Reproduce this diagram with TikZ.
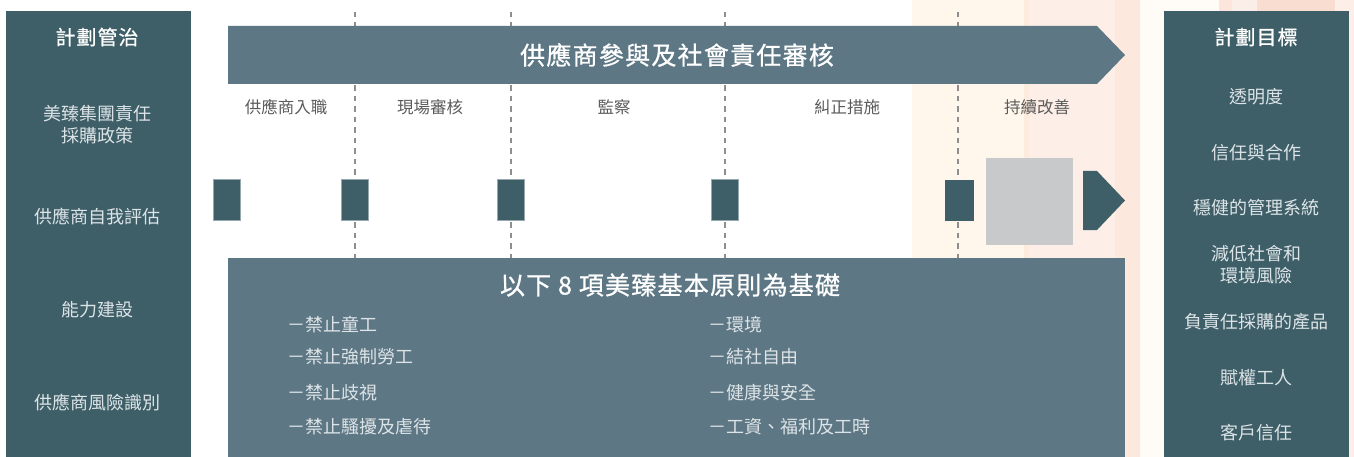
\documentclass[tikz,border=0pt]{standalone}
\usepackage{fontspec}
\setmainfont{Noto Sans CJK TC}
\newfontfamily\headfont[LetterSpace=5, FakeBold=0.8]{Noto Sans CJK TC}

\definecolor{panelteal}{HTML}{3E5F68}
\definecolor{boxslate}{HTML}{5E7785}
\definecolor{blockgray}{HTML}{C8C9CB}
\definecolor{dashgray}{HTML}{8E8E8E}
\definecolor{labelgray}{HTML}{5A5A5A}
\definecolor{itemwhite}{HTML}{DDE4E7}
\definecolor{creamA}{HTML}{FFF7EC}
\definecolor{peachA}{HTML}{FDEBDD}
\definecolor{pinkA}{HTML}{FDEEE7}
\definecolor{pinkB}{HTML}{FDE8DE}
\definecolor{creamB}{HTML}{FFFCF7}
\definecolor{pinkC}{HTML}{FCE6DB}
\definecolor{pinkD}{HTML}{FBEDE7}
\definecolor{peachB}{HTML}{F9DDD1}

\begin{document}
\begin{tikzpicture}[x=1pt,y=-1pt,
    panel/.style={fill=panelteal, draw=none, inner sep=0pt, minimum width=185pt, minimum height=446pt},
    paneltitle/.style={text=white, font=\fontsize{20}{24}\headfont},
    panelitem/.style={text=itemwhite, align=center, font=\fontsize{18}{22}\selectfont},
    stagelabel/.style={text=labelgray, font=\fontsize{16.5}{20}\selectfont},
    marker/.style={fill=panelteal, draw=itemwhite!55!panelteal, line width=0.6pt, minimum width=27pt, minimum height=41pt, inner sep=0pt},
    divider/.style={dashgray, line width=2pt, dash pattern=on 5.5pt off 5pt},
    principle/.style={text=itemwhite, anchor=west, font=\fontsize{18}{22}\selectfont},
    bigtitle/.style={text=white, font=\fontsize{25}{30}\headfont}]
    \useasboundingbox (0,0) rectangle (1354,457);

    % Background stripes
    \fill[creamA] (912,0) rectangle (1024,457);
    \fill[peachA] (1024,0) rectangle (1029,457);
    \fill[pinkA] (1029,0) rectangle (1115,457);
    \fill[pinkB] (1115,0) rectangle (1140,457);
    \fill[creamB] (1140,0) rectangle (1219,457);
    \fill[pinkC] (1219,0) rectangle (1232,457);
    \fill[pinkD] (1232,0) rectangle (1257,457);
    \fill[peachB] (1257,0) rectangle (1335,457);
    \fill[pinkA] (1335,0) rectangle (1354,457);

    % Stage dividers
    \coordinate (div1top) at (355,12);
    \coordinate (div1bot) at (355,258);
    \coordinate (div2top) at (511,12);
    \coordinate (div2bot) at (511,258);
    \coordinate (div3top) at (725,12);
    \coordinate (div3bot) at (725,258);
    \coordinate (div4top) at (958,12);
    \coordinate (div4bot) at (958,258);
    \draw[divider] (div1top) -- (div1bot);
    \draw[divider] (div2top) -- (div2bot);
    \draw[divider] (div3top) -- (div3bot);
    \draw[divider] (div4top) -- (div4bot);

    % Side panels
    \node[panel] (govpanel) at (98.5,234) {};
    \node[panel] (goalpanel) at (1256.5,234) {};

    \node[paneltitle] (govtitle) at (97,37) {計劃管治};
    \node[panelitem] (gov1) at (97,125) {美臻集團責任\\採購政策};
    \node[panelitem] (gov2) at (97,217) {供應商自我評估};
    \node[panelitem] (gov3) at (97,310) {能力建設};
    \node[panelitem] (gov4) at (97,403) {供應商風險識別};

    \node[paneltitle] (goaltitle) at (1256,37) {計劃目標};
    \node[panelitem] (goal1) at (1256,97) {透明度};
    \node[panelitem] (goal2) at (1256,153) {信任與合作};
    \node[panelitem] (goal3) at (1256,208) {穩健的管理系統};
    \node[panelitem] (goal4) at (1256,265) {減低社會和\\環境風險};
    \node[panelitem] (goal5) at (1256,322) {負責任採購的產品};
    \node[panelitem] (goal6) at (1256,378) {賦權工人};
    \node[panelitem] (goal7) at (1256,433) {客戶信任};

    % Process arrow
    \fill[boxslate] (228,26) -- (1097,26) -- (1125,55) -- (1097,84) -- (228,84) -- cycle;
    \node[bigtitle] (flowtitle) at (677,55) {供應商參與及社會責任審核};

    % Stage labels
    \node[stagelabel] (stage1) at (286,107) {供應商入職};
    \node[stagelabel] (stage2) at (430,107) {現場審核};
    \node[stagelabel] (stage3) at (614,107) {監察};
    \node[stagelabel] (stage4) at (847,107) {糾正措施};
    \node[stagelabel] (stage5) at (1037,107) {持續改善};

    % Markers
    \node[marker] (mark0) at (226.5,200) {};
    \node[marker] (mark1) at (355,200) {};
    \node[marker] (mark2) at (511,200) {};
    \node[marker] (mark3) at (725,200) {};
    \node[marker, minimum width=29pt, draw=none] (mark4) at (959.5,200.5) {};
    \node[fill=blockgray, inner sep=0pt, minimum width=87pt, minimum height=87pt] (block) at (1029.5,201.5) {};
    \fill[panelteal] (1083,171) -- (1097,171) -- (1125,200.5) -- (1097,230) -- (1083,230) -- cycle;

    % Principles box
    \node[fill=boxslate, inner sep=0pt, minimum width=897pt, minimum height=199pt] (basebox) at (676.5,357.5) {};
    \node[bigtitle] (basetitle) at (670,285) {以下 8 項美臻基本原則為基礎};
    \node[principle] (prin1) at (284,325) {－禁止童工};
    \node[principle] (prin2) at (284,357) {－禁止強制勞工};
    \node[principle] (prin3) at (284,393) {－禁止歧視};
    \node[principle] (prin4) at (284,427) {－禁止騷擾及虐待};
    \node[principle] (prin5) at (705,325) {－環境};
    \node[principle] (prin6) at (705,357) {－結社自由};
    \node[principle] (prin7) at (705,393) {－健康與安全};
    \node[principle] (prin8) at (705,427) {－工資、福利及工時};
\end{tikzpicture}
\end{document}
